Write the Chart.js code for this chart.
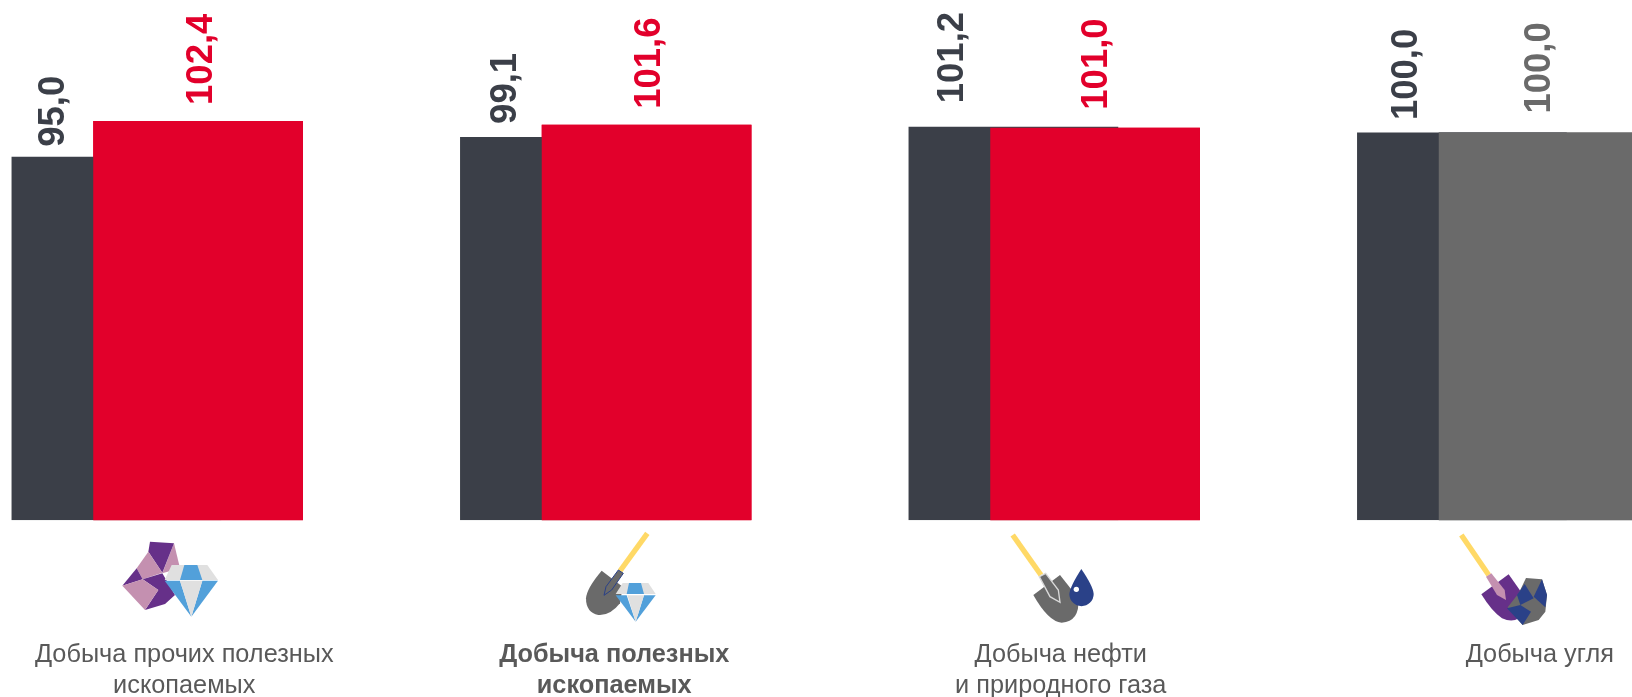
<!DOCTYPE html>
<html lang="ru">

<head>
    <meta charset="UTF-8">
    <title>Добыча полезных ископаемых</title>
    <script src="https://cdn.jsdelivr.net/npm/chart.js"></script>
    <style>
        html, body { margin: 0; padding: 0; background: #fff; overflow: hidden; }
        #wrap { position: relative; width: 1632px; height: 697px; overflow: hidden; }
        /* the last bar runs off the picture, so the canvas is wider than the window */
        #grafico { position: absolute; left: -67px; top: 0; }
        svg { position: absolute; top: 490px; height: 207px; }
    </style>
</head>

<body>
    <div id="wrap">
        <canvas id="grafico" width="1794" height="697"></canvas>

        <!-- icons are traced in 3x crop coordinates, hence the viewBox -->
        <svg style="left:0;width:400px" viewBox="0 0 1200 621">
            <polygon fill="#c490b0" points="522,160 540,235 487,250"/>
            <polygon fill="#663089" points="450,155 522,160 487,248 445,185"/>
            <polygon fill="#c490b0" points="445,185 487,248 428,268 410,235"/>
            <polygon fill="#663089" points="410,235 428,268 367,287"/>
            <polygon fill="#663089" points="428,268 487,250 525,315 495,342 435,360 475,300"/>
            <polygon fill="#c490b0" points="367,287 428,268 475,300 435,360"/>
            <polygon fill="#e0e0e0" points="515,225 622,225 654,270 494,270"/>
            <polygon fill="#52a0da" points="553,225 592,225 607,270 540,270"/>
            <polygon fill="#52a0da" points="494,272 540,272 574,380"/>
            <polygon fill="#52a0da" points="607,272 654,272 574,380"/>
            <polygon fill="#e0e0e0" points="540,272 607,272 574,380"/>
        </svg>
        <svg style="left:440px;width:400px" viewBox="0 0 1200 621">
            <line x1="622" y1="130" x2="540" y2="243" stroke="#ffd966" stroke-width="16"/>
            <path fill="#6a6a6a" d="M485 242 L548 290 L540 340 Q510 378 475 375 Q438 368 438 325 Q440 295 485 242Z"/>
            <polygon fill="#6a6a6a" stroke="#2a4188" stroke-width="3" points="535,240 550,250 515,300 492,316 498,290"/>
            <polygon fill="#e0e0e0" points="548,279 625,279 647,312 527,312"/>
            <polygon fill="#52a0da" points="567,279 603,279 612,312 560,312"/>
            <polygon fill="#52a0da" points="527,316 560,316 587,395"/>
            <polygon fill="#52a0da" points="612,316 647,316 587,395"/>
            <polygon fill="#e0e0e0" points="562,316 612,316 587,395"/>
        </svg>
        <svg style="left:880px;width:400px" viewBox="0 0 1200 621">
            <line x1="398" y1="135" x2="483" y2="255" stroke="#ffd966" stroke-width="16"/>
            <path fill="#6a6a6a" d="M540 255 L595 325 Q600 395 545 398 Q505 395 460 315Z"/>
            <polygon fill="#6a6a6a" stroke="#d9d9d9" stroke-width="4" points="478,260 497,250 535,300 540,337 510,320"/>
            <path fill="#2a4188" d="M604 237 Q640 290 641 312 A36 36 0 1 1 568 312 Q570 290 604 237Z"/>
            <circle fill="#fff" cx="589" cy="298" r="8"/>
        </svg>
        <svg style="left:1332px;width:300px" viewBox="0 0 900 621">
            <line x1="388" y1="135" x2="470" y2="255" stroke="#ffd966" stroke-width="16"/>
            <path fill="#663089" d="M530 253 L570 310 L560 385 Q540 398 510 385 Q480 365 448 313Z"/>
            <polygon fill="#c490b0" points="462,260 478,250 518,300 522,330 495,315"/>
            <polygon fill="#6a6a6a" points="582,264 630,268 645,315 640,365 620,390 572,405 527,352 560,310"/>
            <polygon fill="#2a4188" points="630,268 645,315 640,352 605,320"/>
            <polygon fill="#2a4188" points="578,282 605,325 565,345 555,315"/>
            <polygon fill="#2a4188" points="525,355 565,345 597,365 572,405"/>
        </svg>
    </div>

    <script>
        const categorias = [
            ['Добыча прочих полезных', 'ископаемых'],
            ['Добыча полезных', 'ископаемых'],
            ['Добыча нефти', 'и природного газа'],
            ['Добыча угля']
        ];
        const valoresEscuros = [95.0, 99.1, 101.2, 100.0];
        const valoresClaros = [102.4, 101.6, 101.0, 100.0];
        const coresClaras = ['#e2002b', '#e2002b', '#e2002b', '#6a6a6a'];

        // the labels in the picture were placed by hand, so each one has its own nudge
        const folgaEscura = [10, 13, 23.5, 12.5];
        const folgaClara = [16, 16, 18, 19];
        const ajusteEscuro = [-2, 2, 0, 6];
        const ajusteClaro = [0, 0, -2, -7];
        const ajusteCategoria = [27, 8.5, 6.5, 37];
        const categoriaNegrito = 1;

        const minimoEixo = 20;
        const corEscura = '#3b3f48';
        const corTexto = '#595959';

        const rotulos = {
            id: 'rotulos',
            afterDatasetsDraw(chart) {
                const ctx = chart.ctx;
                const escuras = chart.getDatasetMeta(0).data;
                const claras = chart.getDatasetMeta(1).data;

                // chart.js paints the first dataset last, here the second one must stay on top
                chart.getDatasetMeta(1).controller.draw();

                ctx.save();
                ctx.font = 'bold 36.5px "Liberation Sans"';
                ctx.textAlign = 'left';
                ctx.textBaseline = 'alphabetic';

                function girado(texto, x, y, cor) {
                    ctx.save();
                    ctx.translate(x + 13.5, y);
                    ctx.rotate(-Math.PI / 2);
                    ctx.fillStyle = cor;
                    ctx.fillText(texto, 0, 0);
                    ctx.restore();
                }

                escuras.forEach(function (barra, i) {
                    const clara = claras[i];
                    const esquerda = barra.x - barra.width / 2;
                    const meio = (esquerda + clara.x - clara.width / 2) / 2;
                    girado(valoresEscuros[i].toFixed(1).replace('.', ','), meio + ajusteEscuro[i], barra.y - folgaEscura[i], corEscura);
                    girado(valoresClaros[i].toFixed(1).replace('.', ','), clara.x + ajusteClaro[i], clara.y - folgaClara[i], coresClaras[i]);
                });

                const eixoX = chart.scales.x;
                const base = chart.scales.y.bottom;
                ctx.textAlign = 'center';
                ctx.fillStyle = corTexto;
                categorias.forEach(function (linhas, i) {
                    ctx.font = (i == categoriaNegrito ? 'bold ' : '') + '25.3px "Liberation Sans"';
                    linhas.forEach(function (linha, n) {
                        ctx.fillText(linha, eixoX.getPixelForTick(i) + ajusteCategoria[i], base + 141.7 + n * 31);
                    });
                });
                ctx.restore();
            }
        };

        new Chart(document.getElementById('grafico'), {
            type: 'bar',
            data: {
                labels: categorias,
                datasets: [
                    { data: valoresEscuros, backgroundColor: corEscura, base: minimoEixo },
                    { data: valoresClaros, backgroundColor: coresClaras, base: minimoEixo }
                ]
            },
            plugins: [rotulos],
            options: {
                responsive: false,
                animation: false,
                // bars wider than their slot, so that the pair overlaps
                categoryPercentage: 0.3643,
                barPercentage: 2.567,
                layout: { padding: { left: 0, right: 0, top: 0, bottom: 176.7 } },
                scales: {
                    x: { display: false },
                    y: { display: false, min: minimoEixo, max: 127.35 }
                },
                plugins: {
                    legend: { display: false },
                    tooltip: { enabled: false }
                }
            }
        });
    </script>
</body>

</html>
